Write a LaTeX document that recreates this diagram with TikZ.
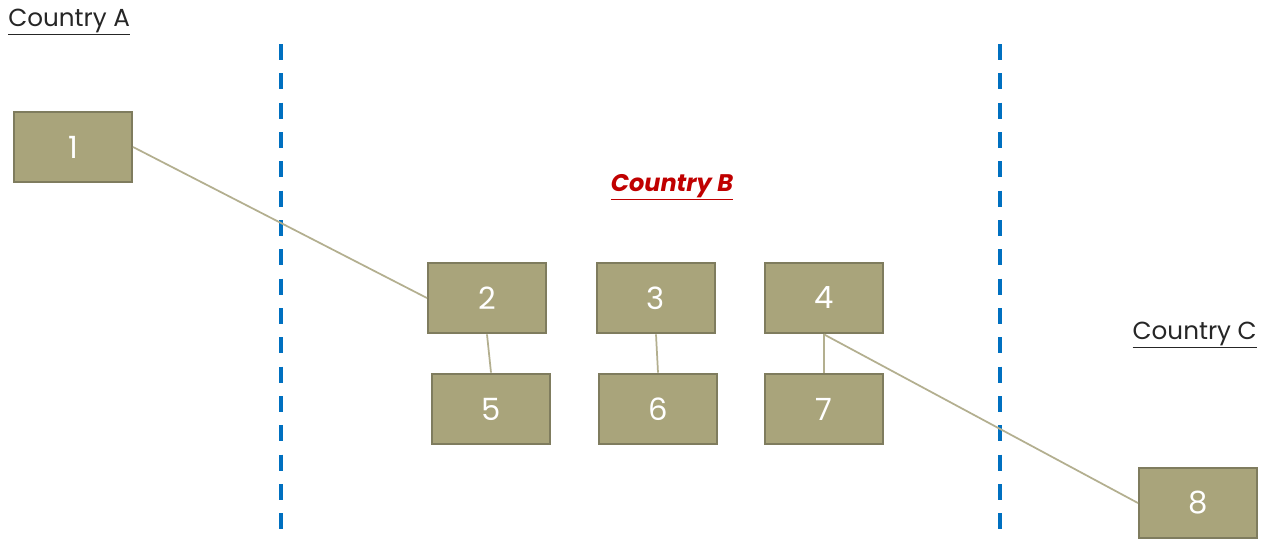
\documentclass[tikz,border=0pt]{standalone}
\usepackage{fontspec}
\setmainfont{Poppins}
\definecolor{boxfill}{HTML}{A9A47B}
\definecolor{boxdraw}{HTML}{7F7C5E}
\definecolor{linkc}{HTML}{B3AF8F}
\definecolor{divc}{HTML}{0070C0}
\definecolor{titlec}{HTML}{262626}
\definecolor{redc}{HTML}{C00000}
\begin{document}
\begin{tikzpicture}[x=0.75pt,y=-0.75pt,
  block/.style={draw=boxdraw,line width=1.6pt,fill=boxfill,minimum width=88.5pt,minimum height=53pt,inner sep=0pt,text=white,font=\fontsize{23}{25}\selectfont},
  link/.style={draw=linkc,line width=1.3pt},
  divider/.style={draw=divc,line width=3pt,dash pattern=on 12pt off 10pt},
  country/.style={text=titlec,font=\fontsize{18.5}{20}\selectfont,inner sep=0pt}]
\useasboundingbox (0,0) rectangle (1270,540);
\path[fill=white] (0,0) rectangle (1270,540);
\coordinate (d1t) at (281,44); \coordinate (d1b) at (281,530);
\coordinate (d2t) at (1000,44); \coordinate (d2b) at (1000,530);
\draw[divider] (d1t) -- (d1b);
\draw[divider] (d2t) -- (d2b);
\node[country,anchor=west] (ca) at (8,22) {\underline{Country A}};
\node[country,text=redc,font=\fontsize{18}{20}\selectfont\bfseries\itshape] (cb) at (672,187) {\underline{Country B}};
\node[country,anchor=east] (cc) at (1257,335) {\underline{Country C}};
\node[block] (n1) at (73,147) {1};
\node[block] (n2) at (487,298) {2};
\node[block] (n3) at (656,298) {3};
\node[block] (n4) at (824,298) {4};
\node[block] (n5) at (491,409) {5};
\node[block] (n6) at (658,409) {6};
\node[block] (n7) at (824,409) {7};
\node[block] (n8) at (1198,503) {8};
\draw[link] (n1.east) -- (n2.west);
\draw[link] (n2.south) -- (n5.north);
\draw[link] (n3.south) -- (n6.north);
\draw[link] (n4.south) -- (n7.north);
\draw[link] (n4.south) -- (n8.west);
\end{tikzpicture}
\end{document}
